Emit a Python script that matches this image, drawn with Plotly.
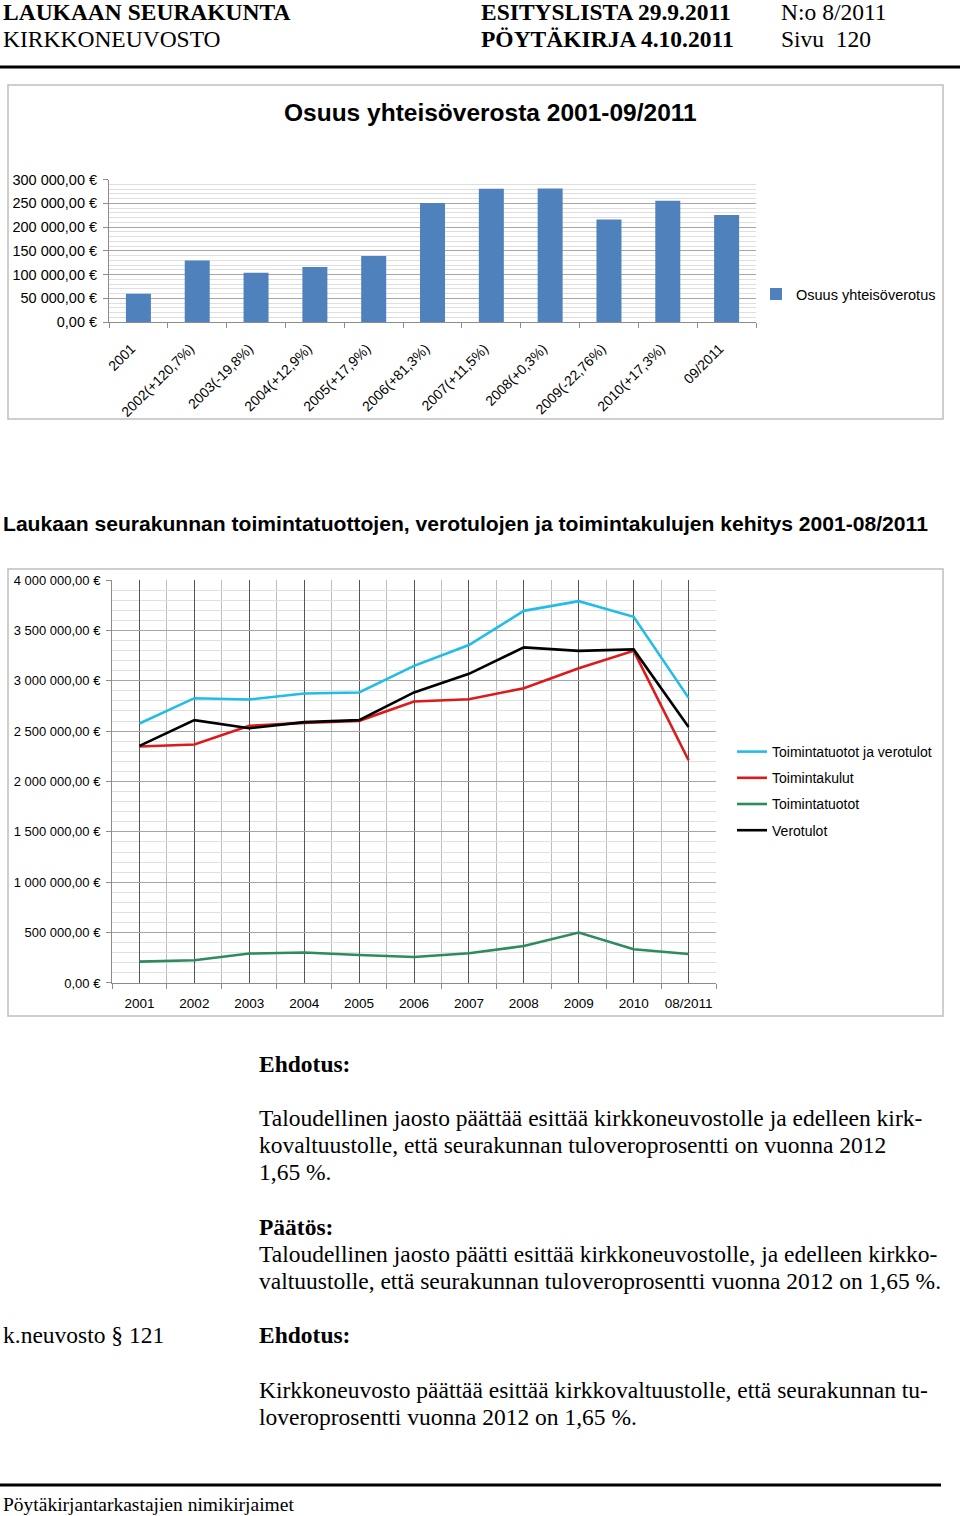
import plotly.graph_objects as go

W, H = 960, 1516
# the page photo is slightly rescaled; positions below are given in photo pixels
SX, OXP = 0.9958, 4.0
SY, OY = 0.98956, 8.0


def X(p):
    return ((p - OXP) / SX) / W


def Y(p):
    return 1 - (p / SY - OY) / H


# ---------------- data ----------------
bar_categories = ["2001", "2002(+120,7%)", "2003(-19,8%)", "2004(+12,9%)", "2005(+17,9%)",
                  "2006(+81,3%)", "2007(+11,5%)", "2008(+0,3%)", "2009(-22,76%)",
                  "2010(+17,3%)", "09/2011"]
bar_values = [59500, 129500, 104000, 116000, 139000, 250500, 280500, 281000, 216000, 255500, 225500]
bar_series_name = "Osuus yhteisöverotus"
bar_title = "Osuus yhteisöverosta 2001-09/2011"

line_categories = ["2001", "2002", "2003", "2004", "2005", "2006", "2007", "2008", "2009", "2010", "08/2011"]
toimintatuotot_ja_verotulot = [2576000, 2827000, 2814000, 2874000, 2884000, 3148000, 3355000,
                               3694000, 3790000, 3635000, 2830000]
toimintakulut = [2348000, 2367000, 2552000, 2582000, 2602000, 2794000, 2817000,
                 2926000, 3125000, 3297000, 2211000]
toimintatuotot = [212000, 225000, 292000, 302000, 278000, 258000, 295000,
                  367000, 500000, 335000, 288000]
verotulot = [2354000, 2609000, 2529000, 2589000, 2609000, 2884000, 3069000,
             3331000, 3297000, 3311000, 2542000]
line_names = ["Toimintatuotot ja verotulot", "Toimintakulut", "Toimintatuotot", "Verotulot"]
line_title = "Laukaan seurakunnan toimintatuottojen, verotulojen ja toimintakulujen kehitys 2001-08/2011"

# ---------------- figure ----------------
SANS = "Liberation Sans, Arial, sans-serif"
SERIF = "Liberation Serif, Times New Roman, serif"

fig = go.Figure()

fig.add_trace(go.Bar(
    x=bar_categories, y=bar_values, name=bar_series_name,
    marker=dict(color="#4F81BD", line=dict(width=0)),
    xaxis="x", yaxis="y", legend="legend", showlegend=True,
))

line_series = [toimintatuotot_ja_verotulot, toimintakulut, toimintatuotot, verotulot]
line_colors = ["#22BDE6", "#DD1A1A", "#2E8B5E", "#000000"]
positions = list(range(len(line_categories)))
for name, vals, col in zip(line_names, line_series, line_colors):
    fig.add_trace(go.Scatter(
        x=positions, y=vals, name=name, mode="lines",
        line=dict(color=col, width=2.6),
        xaxis="x2", yaxis="y2", legend="legend2", legendgroup=name,
    ))

annotations = []


def ann(text, x, y, size, family=SERIF, bold=False, xanchor="left", color="#000"):
    if bold:
        text = "<b>" + text + "</b>"
    annotations.append(dict(
        text=text, x=X(x), y=Y(y), xref="paper", yref="paper",
        xanchor=xanchor, yanchor="middle", showarrow=False,
        font=dict(size=size, family=family, color=color),
    ))


BODY = 23.5
# header
ann("LAUKAAN SEURAKUNTA", 1, 12, 23.5, bold=True)
ann("KIRKKONEUVOSTO", 1, 39, 23.5)
ann("ESITYSLISTA 29.9.2011", 479, 12, 23.5, bold=True)
ann("PÖYTÄKIRJA 4.10.2011", 479, 39, 23.5, bold=True)
ann("N:o 8/2011", 779, 12, 23.5)
ann("Sivu&nbsp;&nbsp;120", 779, 39, 23.5)

# chart titles
ann(bar_title, 490, 112, 24.5, family=SANS, bold=True, xanchor="center")
ann(line_title, 1, 523, 21.1, family=SANS, bold=True)

# body text
ann("Ehdotus:", 257, 1064, BODY, bold=True)
ann("Taloudellinen jaosto päättää esittää kirkkoneuvostolle ja edelleen kirk-", 257, 1118, BODY)
ann("kovaltuustolle, että seurakunnan tuloveroprosentti on vuonna 2012", 257, 1145, BODY)
ann("1,65 %.", 257, 1172, BODY)
ann("Päätös:", 257, 1227, BODY, bold=True)
ann("Taloudellinen jaosto päätti esittää kirkkoneuvostolle, ja edelleen kirkko-", 257, 1254, BODY)
ann("valtuustolle, että seurakunnan tuloveroprosentti vuonna 2012 on 1,65 %.", 257, 1281, BODY)
ann("k.neuvosto § 121", 1, 1335, BODY)
ann("Ehdotus:", 257, 1335, BODY, bold=True)
ann("Kirkkoneuvosto päättää esittää kirkkovaltuustolle, että seurakunnan tu-", 257, 1390, BODY)
ann("loveroprosentti vuonna 2012 on 1,65 %.", 257, 1417, BODY)
ann("Pöytäkirjantarkastajien nimikirjaimet", 1, 1505, 19.5)

shapes = [
    dict(type="line", xref="paper", yref="paper", x0=X(0), x1=X(960), y0=Y(67), y1=Y(67),
         line=dict(color="#000", width=3)),
    dict(type="line", xref="paper", yref="paper", x0=X(0), x1=X(941), y0=Y(1485), y1=Y(1485),
         line=dict(color="#000", width=3)),
    dict(type="rect", xref="paper", yref="paper", x0=X(8), x1=X(943), y0=Y(419), y1=Y(85),
         line=dict(color="#BFBFBF", width=1.5)),
    dict(type="rect", xref="paper", yref="paper", x0=X(8), x1=X(943), y0=Y(1016), y1=Y(569),
         line=dict(color="#BFBFBF", width=1.5)),
]

fig.update_layout(
    width=W, height=H,
    margin=dict(l=0, r=0, t=0, b=0),
    paper_bgcolor="white", plot_bgcolor="white",
    separators=", ",
    font=dict(family=SANS, color="#000"),
    bargap=0.575,
    annotations=annotations,
    shapes=shapes,
    xaxis=dict(
        domain=[X(109), X(756)], anchor="y", type="category",
        tickangle=-45, tickfont=dict(size=14, family=SANS),
        ticks="outside", tickson="boundaries", ticklen=5, tickcolor="#8C8C8C",
        ticklabelstandoff=12, ticklabelshift=-7,
        showline=True, linecolor="#8C8C8C", linewidth=1, showgrid=False,
    ),
    yaxis=dict(
        domain=[Y(322), Y(179.5)], anchor="x", range=[0, 300000],
        tick0=0, dtick=50000, tickformat=",.2f", ticksuffix=" €",
        tickfont=dict(size=14.5, family=SANS),
        ticks="outside", ticklen=5, tickcolor="#8C8C8C", ticklabelstandoff=3,
        showline=True, linecolor="#8C8C8C", linewidth=1,
        showgrid=True, gridcolor="#A6A6A6", gridwidth=1, zeroline=False,
        minor=dict(dtick=10000, showgrid=True, gridcolor="#DEDEDE", gridwidth=1),
    ),
    xaxis2=dict(
        domain=[X(112), X(716)], anchor="y2", range=[-0.5, len(line_categories) - 0.5],
        tickmode="array", tickvals=positions, ticktext=line_categories,
        tickfont=dict(size=13.5, family=SANS), ticks="", ticklabelstandoff=8,
        showline=True, linecolor="#8C8C8C", linewidth=1,
        showgrid=True, gridcolor="#555555", gridwidth=1, zeroline=False,
        minor=dict(tickmode="array", tickvals=[p - 0.5 for p in positions] + [positions[-1] + 0.5],
                   ticks="outside", ticklen=5, tickcolor="#8C8C8C",
                   showgrid=True, gridcolor="#BDBDBD", gridwidth=1),
    ),
    yaxis2=dict(
        domain=[Y(983), Y(580)], anchor="x2", range=[0, 4000000],
        tick0=0, dtick=500000, tickformat=",.2f", ticksuffix=" €",
        tickfont=dict(size=13, family=SANS),
        ticks="outside", ticklen=5, tickcolor="#8C8C8C", ticklabelstandoff=3,
        showline=True, linecolor="#8C8C8C", linewidth=1,
        showgrid=True, gridcolor="#A6A6A6", gridwidth=1, zeroline=False,
        minor=dict(dtick=100000, showgrid=True, gridcolor="#E0E0E0", gridwidth=1),
    ),
    legend=dict(
        x=X(756), y=Y(294), xanchor="left", yanchor="middle",
        font=dict(size=14.5, family=SANS), itemwidth=30,
        bgcolor="rgba(0,0,0,0)",
    ),
    legend2=dict(
        x=X(732), y=Y(736), xanchor="left", yanchor="top",
        font=dict(size=14, family=SANS), itemwidth=30,
        traceorder="grouped", tracegroupgap=5,
        bgcolor="rgba(0,0,0,0)",
    ),
)

fig.write_html("out.html", config={"displayModeBar": False},
               post_script="document.body.style.margin='0';")
